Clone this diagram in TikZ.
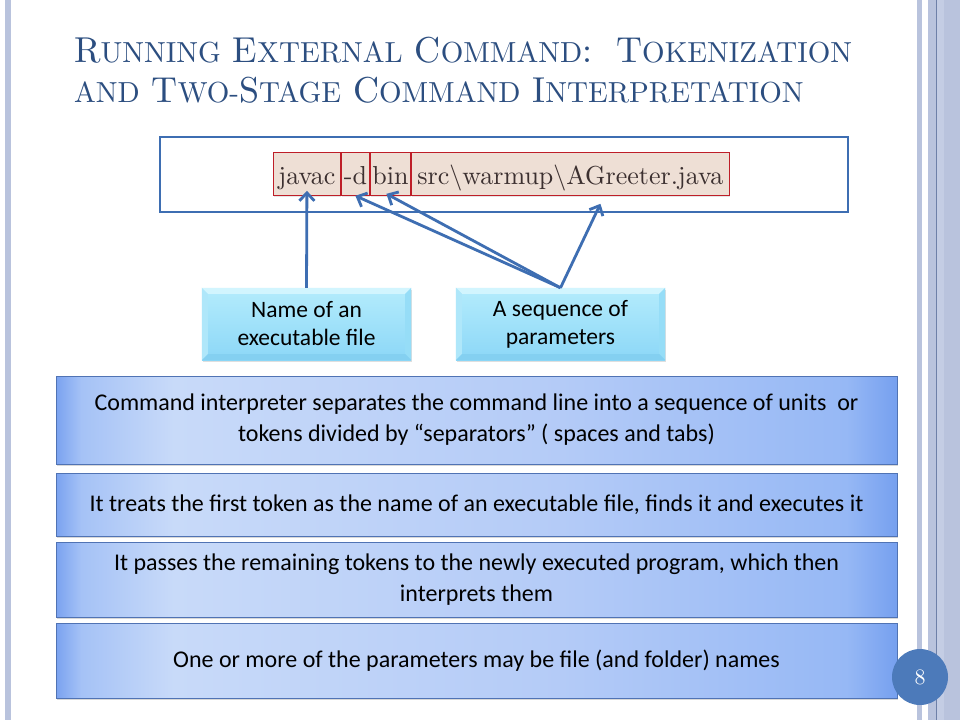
\documentclass[tikz,border=0pt]{standalone}
\usepackage{fontspec}
\newfontfamily\calibri{Carlito}
\newfontfamily\lmten{lmroman10-regular.otf}
\usetikzlibrary{shadows,calc,arrows.meta}
\definecolor{titleblue}{RGB}{44,78,128}
\definecolor{strip}{RGB}{185,195,221}
\definecolor{striplight}{RGB}{196,205,228}
\definecolor{stripdark}{RGB}{110,128,168}
\definecolor{cmdblue}{RGB}{62,110,178}
\definecolor{tokfill}{RGB}{238,223,213}
\definecolor{tokline}{RGB}{190,30,40}
\definecolor{tokgray}{RGB}{60,48,48}
\definecolor{pagecirc}{RGB}{76,122,186}
\definecolor{bb1}{RGB}{122,162,240}
\definecolor{bb2}{RGB}{165,194,246}
\definecolor{bb3}{RGB}{200,218,249}
\definecolor{bb4}{RGB}{180,203,247}
\definecolor{bb5}{RGB}{150,184,245}
\definecolor{bb6}{RGB}{118,160,239}
\definecolor{bbline}{RGB}{80,115,180}
\definecolor{cy1}{RGB}{180,236,252}
\definecolor{cy2}{RGB}{140,215,247}
\definecolor{cytop}{RGB}{210,245,254}
\definecolor{cyleft}{RGB}{175,231,250}
\definecolor{cyright}{RGB}{150,221,247}
\definecolor{cybot}{RGB}{132,208,241}
\pgfdeclarehorizontalshading{blueboxshade}{100bp}{color(0bp)=(bb1); color(25bp)=(bb1); color(26.5bp)=(bb2); color(32bp)=(bb3); color(55bp)=(bb4); color(72bp)=(bb5); color(75bp)=(bb6); color(100bp)=(bb6)}
\pgfdeclareverticalshading{cyanboxshade}{100bp}{color(0bp)=(cy2); color(25bp)=(cy2); color(75bp)=(cy1); color(100bp)=(cy1)}
\newcommand\cyanbevel[1]{%
  \fill[cytop] (#1.north west) -- (#1.north east) -- ($(#1.north east)+(-6,6)$) -- ($(#1.north west)+(6,6)$) -- cycle;
  \fill[cyleft] (#1.north west) -- ($(#1.north west)+(6,6)$) -- ($(#1.south west)+(6,-6)$) -- (#1.south west) -- cycle;
  \fill[cyright] (#1.north east) -- ($(#1.north east)+(-6,6)$) -- ($(#1.south east)+(-6,-6)$) -- (#1.south east) -- cycle;
  \fill[cybot] (#1.south west) -- ($(#1.south west)+(6,-6)$) -- ($(#1.south east)+(-6,-6)$) -- (#1.south east) -- cycle;
}
\newcommand\tbig[1]{{\fontsize{36}{40}\selectfont #1}}
\newcommand\tsmall[1]{{\fontsize{29}{40}\selectfont #1}}
\tikzset{
  titletext/.style={anchor=base west, inner sep=0pt, text=titleblue, font=\lmten\fontsize{36}{40}\selectfont},
  tok/.style={draw=tokline, line width=0.8pt, fill=tokfill, anchor=north west, minimum height=43pt,
    inner sep=0pt, text height=22pt, text depth=0pt, text=tokgray, font=\lmten\fontsize{26}{30}\selectfont,
    drop shadow={opacity=0.2, shadow xshift=1pt, shadow yshift=-1.5pt}},
  arr/.style={draw=cmdblue, line width=2.8pt, -{Straight Barb[length=8pt,width=15pt]}},
  cyanbox/.style={shading=cyanboxshade, minimum width=209pt, minimum height=72pt,
    drop shadow={opacity=0.25, shadow xshift=1pt, shadow yshift=-2pt}},
  cyantext/.style={align=center, font=\calibri\fontsize{23.5}{28}\selectfont},
  bluebox/.style={shading=blueboxshade, draw=bbline, line width=0.6pt, minimum width=841pt, align=center,
    font=\calibri\fontsize{24}{31}\selectfont, drop shadow={opacity=0.3, shadow xshift=1pt, shadow yshift=-2pt}}
}
\begin{document}
\begin{tikzpicture}[x=1pt,y=-1pt]
\useasboundingbox (0,0) rectangle (960,720);
\fill[white] (0,0) rectangle (960,720);
% border strips
\fill[strip] (5,0) rectangle (11,720);
\fill[strip] (917,0) rectangle (922,720);
\fill[strip] (928,0) rectangle (960,720);
\fill[striplight] (937,0) rectangle (944,720);
\draw[stripdark, line width=1pt] (936.5,0) -- (936.5,720);
% title
\node[titletext] (title1) at (74,62) {\tbig{R}\tsmall{UNNING} \tbig{E}\tsmall{XTERNAL} \tbig{C}\tsmall{OMMAND}:\ \ \tbig{T}\tsmall{OKENIZATION}};
\node[titletext] (title2) at (74,102) {\tsmall{AND} \tbig{T}\tsmall{WO-}\tbig{S}\tsmall{TAGE} \tbig{C}\tsmall{OMMAND} \tbig{I}\tsmall{NTERPRETATION}};
% command box
\node[draw=cmdblue, line width=2.5pt, minimum width=688pt, minimum height=75pt, inner sep=0pt] (cmd) at (504,174.5) {};
\node[tok, minimum width=67pt] (t1) at (273,152) {javac};
\node[tok, minimum width=28pt] (t2) at (341,152) {-d};
\node[tok, minimum width=40pt] (t3) at (370,152) {bin};
\node[tok, minimum width=318pt] (t4) at (411,152) {src\textbackslash warmup\textbackslash AGreeter.java};
% cyan boxes
\node[cyanbox] (n1) at (306.5,324) {};
\cyanbevel{n1}
\node[cyanbox] (n2) at (560.5,324) {};
\cyanbevel{n2}
\node[cyantext] (n1t) at (n1) {Name of an\\executable file};
\node[cyantext] (n2t) at (n2) {A sequence of\\parameters};
% arrows
\draw[arr, shorten >=-5pt] (n1.north) -- (t1.south);
\draw[arr] (n2.north) -- (t2.south);
\draw[arr] (n2.north) -- ($(t3.south)+(-4,-2)$);
\draw[arr] (n2.north) -- ($(t4.south)+(30,8)$);
% blue boxes
\node[bluebox, minimum height=88pt] (b1) at (476.5,420) {Command interpreter separates the command line into a sequence of units\ \ or\\tokens divided by “separators” ( spaces and tabs)};
\node[bluebox, minimum height=63pt] (b2) at (476.5,504.5) {It treats the first token as the name of an executable file, finds it and executes it};
\node[bluebox, minimum height=75pt] (b3) at (476.5,579.5) {It passes the remaining tokens to the newly executed program, which then\\interprets them};
\node[bluebox, minimum height=75pt] (b4) at (476.5,660.5) {One or more of the parameters may be file (and folder) names};
% page number
\node[circle, fill=pagecirc, minimum size=56pt, inner sep=0pt, text=white, font=\lmten\fontsize{22}{24}\selectfont] (pg) at (920,677) {8};
\end{tikzpicture}
\end{document}
